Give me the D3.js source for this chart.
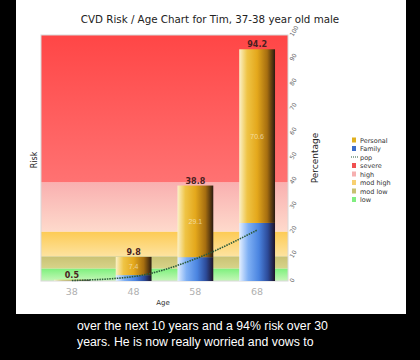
<!DOCTYPE html>
<html><head><meta charset="utf-8">
<script src="https://cdn.jsdelivr.net/npm/d3@7"></script>
<style>
html,body{margin:0;padding:0;background:#000;}
svg{display:block;}
</style></head>
<body>
<svg id="c" width="420" height="360"></svg>
<script>
const ages = ["38", "48", "58", "68"];
const personal = [0.3, 7.4, 29.1, 70.6];
const family = [0.2, 2.4, 9.7, 23.6];
const pop = [0.2, 1.8, 9.0, 20.7];
const rightTicks = [0, 10, 20, 30, 40, 50, 60, 70, 80, 90, 100];
const riskNames = ["severe", "high", "mod high", "mod low", "low"];
const riskLow = [40, 20, 10, 5, 0];
const riskHigh = [100, 40, 20, 10, 5];
const legendNames = ["Personal", "Family", "pop", "severe", "high", "mod high", "mod low", "low"];
const subtitle = ["over the next 10 years and a 94% risk over 30", "years. He is now really worried and vows to"];

const svg = d3.select("#c");
const defs = svg.append("defs");
const L = 41, R = 288, T = 35, B = 281;

svg.append("rect").attr("x", 16).attr("y", 0).attr("width", 390).attr("height", 314).attr("fill", "#fff");

const x = d3.scaleBand().domain(ages).range([L, R]).paddingInner(0.42).paddingOuter(0.21);
const y = d3.scaleLinear().domain([0, 100]).range([B, T]);

const bandCols = {
  "severe": ["#ff4646", "#ff7272"],
  "high": ["#f9b0b0", "#fedacc"],
  "mod high": ["#fdcb55", "#fde3a0"],
  "mod low": ["#c9c274", "#d8d48a"],
  "low": ["#7ef07e", "#c6f7b8"]
};
riskNames.forEach((n, i) => {
  const g = defs.append("linearGradient").attr("id", "bg" + i).attr("x1", 0).attr("y1", 0).attr("x2", 0).attr("y2", 1);
  g.append("stop").attr("offset", "0%").attr("stop-color", bandCols[n][0]);
  g.append("stop").attr("offset", "100%").attr("stop-color", bandCols[n][1]);
});
svg.append("g").selectAll("rect").data(riskNames).join("rect")
  .attr("x", L).attr("width", R - L)
  .attr("y", (d, i) => y(riskHigh[i]))
  .attr("height", (d, i) => y(riskLow[i]) - y(riskHigh[i]))
  .attr("fill", (d, i) => `url(#bg${i})`);
svg.append("rect").attr("x", L).attr("y", T).attr("width", R - L).attr("height", B - T)
  .attr("fill", "none").attr("stroke", "#d8d8d8").attr("stroke-width", 1);

function hgrad(id, stops) {
  const g = defs.append("linearGradient").attr("id", id).attr("x1", 0).attr("y1", 0).attr("x2", 1).attr("y2", 0);
  stops.forEach(s => g.append("stop").attr("offset", s[0]).attr("stop-color", s[1]));
}
hgrad("gold", [["0%", "#fbf1c8"], ["22%", "#efc445"], ["50%", "#e4a81c"], ["78%", "#a66e10"], ["100%", "#2a1a10"]]);
hgrad("blue", [["0%", "#e4efff"], ["25%", "#7fb0f4"], ["55%", "#4a84e0"], ["80%", "#2c4a98"], ["100%", "#1e1226"]]);

const bars = svg.append("g");
bars.selectAll("rect.fam").data(ages).join("rect").attr("class", "fam")
  .attr("x", d => x(d)).attr("width", x.bandwidth())
  .attr("y", (d, i) => y(family[i])).attr("height", (d, i) => y(0) - y(family[i]))
  .attr("fill", "url(#blue)");
bars.selectAll("rect.per").data(ages).join("rect").attr("class", "per")
  .attr("x", d => x(d)).attr("width", x.bandwidth())
  .attr("y", (d, i) => y(family[i] + personal[i])).attr("height", (d, i) => y(family[i]) - y(family[i] + personal[i]))
  .attr("fill", "url(#gold)");

bars.selectAll("text.in").data(ages.slice(1)).join("text").attr("class", "in")
  .attr("x", d => x(d) + x.bandwidth() / 2)
  .attr("y", (d, i) => y(family[i + 1] + personal[i + 1] / 2) + 3)
  .attr("text-anchor", "middle").attr("font-family", "Liberation Sans, Arial, sans-serif")
  .attr("font-size", 7).attr("fill", "#fff").attr("fill-opacity", 0.55)
  .text((d, i) => personal[i + 1].toFixed(1));

bars.selectAll("text.top").data(ages).join("text").attr("class", "top")
  .attr("x", d => x(d) + x.bandwidth() / 2)
  .attr("y", (d, i) => y(family[i] + personal[i]) - 2)
  .attr("text-anchor", "middle").attr("font-family", "DejaVu Sans, sans-serif")
  .attr("font-size", 8).attr("font-weight", 600).attr("fill", "#4a2020")
  .text((d, i) => (family[i] + personal[i]).toFixed(1));

const line = d3.line().x((d, i) => x(ages[i]) + x.bandwidth() / 2).y(d => y(d)).curve(d3.curveMonotoneX);
svg.append("path").datum(pop).attr("d", line).attr("fill", "none")
  .attr("stroke", "#2a5a3a").attr("stroke-width", 1.6).attr("stroke-dasharray", "1.5,1");

svg.append("g").selectAll("text").data(ages).join("text")
  .attr("x", d => x(d) + x.bandwidth() / 2).attr("y", 295)
  .attr("text-anchor", "middle").attr("font-family", "DejaVu Sans, sans-serif")
  .attr("font-size", 9.5).attr("fill", "#b0b0b0").text(d => d);
svg.append("text").attr("x", 163).attr("y", 305).attr("text-anchor", "middle")
  .attr("font-family", "DejaVu Sans, sans-serif").attr("font-size", 7).attr("fill", "#333").text("Age");

svg.append("g").selectAll("text").data(rightTicks).join("text")
  .attr("transform", d => `translate(293,${y(d) + 2}) rotate(-60)`)
  .attr("font-family", "DejaVu Sans, sans-serif").attr("font-size", 6).attr("fill", "#666").text(d => d);
svg.append("text").attr("transform", "translate(318,158) rotate(-90)").attr("text-anchor", "middle")
  .attr("font-family", "DejaVu Sans, sans-serif").attr("font-size", 9).attr("fill", "#222").text("Percentage");
svg.append("text").attr("transform", "translate(37,160) rotate(-90)").attr("text-anchor", "middle")
  .attr("font-family", "DejaVu Sans, sans-serif").attr("font-size", 8).attr("fill", "#222").text("Risk");

svg.append("text").attr("x", 210).attr("y", 23).attr("text-anchor", "middle")
  .attr("font-family", "DejaVu Sans, sans-serif").attr("font-size", 10.3).attr("fill", "#222")
  .text("CVD Risk / Age Chart for Tim, 37-38 year old male");

const legCols = ["#e0b020", "#3c6cc8", null, "#f05050", "#f6b0b0", "#f8d070", "#c8c070", "#80ee80"];
const lg = svg.append("g").selectAll("g").data(legendNames).join("g")
  .attr("transform", (d, i) => `translate(352,${141 + i * 8.5})`);
lg.each(function(d, i) {
  const g = d3.select(this);
  if (legCols[i]) {
    g.append("rect").attr("x", 0).attr("y", -3.5).attr("width", 4).attr("height", 5).attr("fill", legCols[i]);
  } else {
    g.append("line").attr("x1", -1).attr("x2", 6).attr("y1", -1).attr("y2", -1)
      .attr("stroke", "#2a5a3a").attr("stroke-width", 1.2).attr("stroke-dasharray", "1,1");
  }
  g.append("text").attr("x", 8).attr("y", 1.5).attr("font-family", "DejaVu Sans, sans-serif")
    .attr("font-size", 6.5).attr("fill", "#333").text(d);
});

svg.append("g").selectAll("text").data(subtitle).join("text")
  .attr("x", 77).attr("y", (d, i) => 330 + i * 16)
  .attr("font-family", "Liberation Sans, Arial, sans-serif").attr("font-size", 12.3)
  .attr("fill", "#fff").text(d => d);
</script>
</body></html>
